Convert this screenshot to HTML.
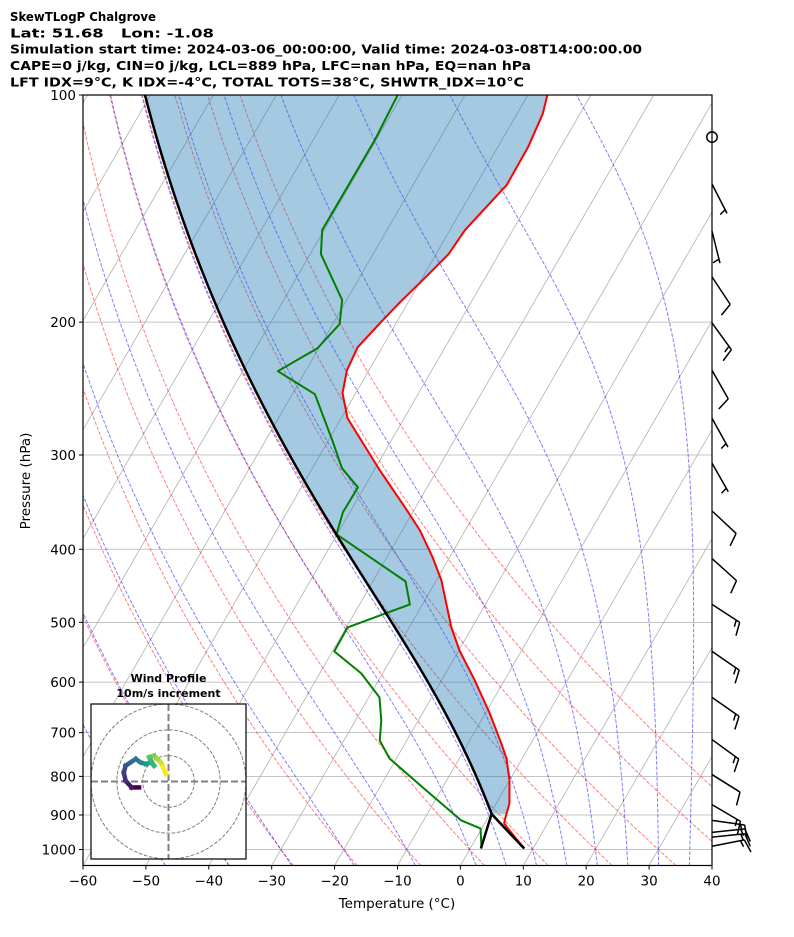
<!DOCTYPE html>
<html><head><meta charset="utf-8"><style>
html,body{margin:0;padding:0;background:#fff;}
svg{display:block;font-family:"DejaVu Sans","Liberation Sans",sans-serif;}
</style></head><body>
<svg id="chart" width="794" height="937" viewBox="0 0 794 937" xmlns="http://www.w3.org/2000/svg">
<rect width="794" height="937" fill="#fff"/>
<g font-weight="bold" font-size="12.5" fill="#000" style="white-space:pre">
<text x="10" y="21" textLength="146" lengthAdjust="spacingAndGlyphs">SkewTLogP Chalgrove</text>
<text x="10" y="37.5" textLength="204" lengthAdjust="spacingAndGlyphs">Lat: 51.68&#160;&#160;&#160;Lon: -1.08</text>
<text x="10" y="53.5" textLength="632" lengthAdjust="spacingAndGlyphs">Simulation start time: 2024-03-06_00:00:00, Valid time: 2024-03-08T14:00:00.00</text>
<text x="10" y="70" textLength="521" lengthAdjust="spacingAndGlyphs">CAPE=0 j/kg, CIN=0 j/kg, LCL=889 hPa, LFC=nan hPa, EQ=nan hPa</text>
<text x="10" y="86.5" textLength="514" lengthAdjust="spacingAndGlyphs">LFT IDX=9°C, K IDX=-4°C, TOTAL TOTS=38°C, SHWTR_IDX=10°C</text>
</g>
<defs><clipPath id="plotclip"><rect x="83" y="95" width="629" height="771"/></clipPath></defs>
<g id="plot" clip-path="url(#plotclip)"></g>
<g id="axes"></g>
<g id="barbs"></g>
<g id="hodo"></g>
</svg>
<script>
// ---- data ----
const tempP = [100,106,117,131.6,151,162.5,174.9,188.2,198.8,215.9,231.6,248.4,268.2,314.3,351.9,377.6,410,439.8,507.7,544.6,597,660,723.5,757.4,810,869,909.6,923.6,943.6,997];
const tempT = [-56.9,-55.9,-55.2,-55.1,-57.6,-58.0,-59.6,-61.3,-62.4,-63.9,-63.5,-62.1,-59.0,-49.1,-41.7,-37.2,-32.7,-29.2,-23.3,-19.9,-14.7,-9.3,-4.7,-2.5,0.0,2.1,2.8,3.1,4.6,8.6];
const dewP = [100,114.7,151,162.5,174.3,187,201.2,216.6,232.3,249.2,288.6,312.4,331.1,357.3,382.2,441.2,473.3,507.7,546.3,584.2,628.6,674.3,716.9,757.4,835.3,915.2,937.7,994];
const dewT = [-80.7,-80.2,-80.3,-78.3,-74.5,-70.7,-68.9,-70.2,-74.4,-66.4,-59.1,-55.3,-51.0,-51.1,-50.1,-34.8,-32.0,-39.8,-39.7,-33.4,-28.3,-25.9,-24.3,-21.1,-12.3,-4.0,-0.2,1.7];
const windP = [113.7,131.2,151.5,174.2,200.5,231.6,268.2,307.5,355.8,411.5,473.3,546.3,628.6,715,795.6,872,915,949,963,990];
const windDir = [0,153,166,146.5,144,150.5,151,150.5,133,132,123,124.5,125,126,122,120.5,98,84,84,79];
const windSpd = [0,5,5,10,15,10,5,5,10,10,15,15,15,15,10,15,15,15,15,15];
const hodoU = [-11.4,-14.3,-16.6,-17.3,-16.6,-14.7,-12.7,-10.8,-8.8,-6.9,-5.6,-7.5,-5.6,-4.3,-3.0,-2.1,-1.0];
const hodoV = [-2.3,-2.3,0.3,3.5,6.1,7.4,8.7,7.4,6.8,7.4,6.1,9.4,10.0,8.7,7.4,5.5,2.9];
const xTicks = [-60,-50,-40,-30,-20,-10,0,10,20,30,40];
const pTicks = [100,200,300,400,500,600,700,800,900,1000];
const dryT0 = [-40,-30,-20,-10,0,10,20,30,40,50];
const moistT0 = [-50,-40,-30,-20,-10,0,5,10,15,20,25,30,35];
const isoT = [-160,-150,-140,-130,-120,-110,-100,-90,-80,-70,-60,-50,-40,-30,-20,-10,0,10,20,30,40];

// ---- scales ----
const NS='http://www.w3.org/2000/svg';
const X0=83,X1=712,Y0=95,K=754.5,PB=1050;
function yP(p){return Y0+K*Math.log10(p/100);}
const YB=yP(PB);
function xT(t,p){return X0+(t+60)*6.29+0.5774*(YB-yP(p));}
function mk(tag,attrs,parent){const e=document.createElementNS(NS,tag);for(const k in attrs)e.setAttribute(k,attrs[k]);parent.appendChild(e);return e;}
function pathD(pts){return pts.map((q,i)=>(i?'L':'M')+q[0].toFixed(2)+' '+q[1].toFixed(2)).join('');}
const plot=document.getElementById('plot'),axes=document.getElementById('axes');

function esat(Tk){return 6.112*Math.exp(17.67*(Tk-273.15)/(Tk-29.65));}
function dTdp(T,p){const es=esat(T);const rs=0.622*es/(p-es);return (287.04*T+2.501e6*rs)/(1005.7+2.501e6*2.501e6*rs*0.622/(287.04*T*T))/p;}
function moist(Tk,p0,p1,n){const out=[[p0,Tk]];let T=Tk,p=p0;const h=(p1-p0)/n;
 for(let i=0;i<n;i++){const k1=dTdp(T,p),k2=dTdp(T+h/2*k1,p+h/2),k3=dTdp(T+h/2*k2,p+h/2),k4=dTdp(T+h*k3,p+h);T+=h/6*(k1+2*k2+2*k3+k4);p+=h;out.push([p,T]);}return out;}
function interpLog(p,P,T){const lp=Math.log(p);if(p<=P[0])return T[0];for(let i=1;i<P.length;i++){if(p<=P[i]){const a=Math.log(P[i-1]),b=Math.log(P[i]);return T[i-1]+(T[i]-T[i-1])*(lp-a)/(b-a);}}return T[T.length-1];}

pTicks.forEach(p=>{const l=mk('line',{x1:X0,x2:X1,y1:yP(p),y2:yP(p),stroke:'#b0b0b0','stroke-width':0.8},plot);
 });
isoT.forEach(t=>{const l=mk('line',{x1:xT(t,PB),y1:YB,x2:xT(t,100),y2:yP(100),stroke:'#b0b0b0','stroke-width':0.8},plot);
 });
dryT0.forEach(t0=>{const pts=[];for(let i=0;i<=60;i++){const p=PB-(PB-100)*i/60;const T=(t0+273.15)*Math.pow(p/1000,0.28571)-273.15;pts.push([xT(T,p),yP(p)]);}
 const e=mk('path',{d:pathD(pts),fill:'none',stroke:'red','stroke-opacity':0.5,'stroke-width':1,'stroke-dasharray':'3.7 1.6'},plot);
 });
moistT0.forEach(t0=>{const up=moist(t0+273.15,1000,100,180),dn=moist(t0+273.15,1000,PB,10);
 const pts=dn.reverse().concat(up.slice(1)).map(q=>[xT(q[1]-273.15,q[0]),yP(q[0])]);
 const e=mk('path',{d:pathD(pts),fill:'none',stroke:'blue','stroke-opacity':0.5,'stroke-width':1,'stroke-dasharray':'3.7 1.6'},plot);
 });

const p0=tempP[tempP.length-1],T0=tempT[tempT.length-1],Td0=dewT[dewT.length-1];
const e0=6.112*Math.exp(17.67*Td0/(Td0+243.5));const w=0.622*e0/(p0-e0);
function tdAt(p){const e=w*p/(0.622+w);const l=Math.log(e/6.112);return 243.5*l/(17.67-l);}
let plcl=p0;for(let p=p0;p>300;p-=0.5){const T=(T0+273.15)*Math.pow(p/p0,0.28571)-273.15;if(T<=tdAt(p)){plcl=p;break;}}
const Tlcl=(T0+273.15)*Math.pow(plcl/p0,0.28571);
const parcel=[];for(let i=0;i<=20;i++){const p=p0-(p0-plcl)*i/20;parcel.push([p,(T0+273.15)*Math.pow(p/p0,0.28571)-273.15]);}
moist(Tlcl,plcl,100,200).slice(1).forEach(q=>parcel.push([q[0],q[1]-273.15]));
const above=parcel.filter(q=>q[0]<=plcl+0.01);
const poly=above.map(q=>[xT(q[1],q[0]),yP(q[0])]).concat(above.slice().reverse().map(q=>{const t=interpLog(q[0],tempP,tempT);return [xT(t,q[0]),yP(q[0])];}));
const fillEl=mk('path',{d:pathD(poly)+'Z',fill:'#1f77b4','fill-opacity':0.4,stroke:'none'},plot);

const tl=mk('path',{d:pathD(tempP.map((p,i)=>[xT(tempT[i],p),yP(p)])),fill:'none',stroke:'red','stroke-width':2,'stroke-linejoin':'round'},plot);

const dl=mk('path',{d:pathD(dewP.map((p,i)=>[xT(dewT[i],p),yP(p)])),fill:'none',stroke:'green','stroke-width':2,'stroke-linejoin':'round'},plot);

const pl=mk('path',{d:pathD(parcel.map(q=>[xT(q[1],q[0]),yP(q[0])])),fill:'none',stroke:'#000','stroke-width':2.5,'stroke-linejoin':'round'},plot);

const ml=[];for(let i=0;i<=10;i++){const p=p0-(p0-plcl)*i/10;ml.push([xT(tdAt(p),p),yP(p)]);}
const mle=mk('path',{d:pathD(ml),fill:'none',stroke:'#000','stroke-width':2.5},plot);


const fr=mk('rect',{x:X0,y:Y0,width:X1-X0,height:YB-Y0,fill:'none',stroke:'#000','stroke-width':1.2},axes);

xTicks.forEach(t=>{const x=X0+(t+60)*6.29;
 const tk=mk('line',{x1:x,x2:x,y1:YB,y2:YB+4,stroke:'#000','stroke-width':1},axes);
 const tx=mk('text',{x:x,y:YB+20,'text-anchor':'middle','font-size':13.5},axes);tx.textContent=String(t).replace('-','−');
 });
pTicks.forEach(p=>{const y=yP(p);
 const tk=mk('line',{x1:X0-4,x2:X0,y1:y,y2:y,stroke:'#000','stroke-width':1},axes);
 const tx=mk('text',{x:X0-7,y:y+5,'text-anchor':'end','font-size':13.5},axes);tx.textContent=String(p);
 });
const xl=mk('text',{x:397,y:908,'text-anchor':'middle','font-size':13.5},axes);xl.textContent='Temperature (°C)';

const yl=mk('text',{x:30,y:481,'text-anchor':'middle','font-size':13.5,transform:'rotate(-90 30 481)'},axes);yl.textContent='Pressure (hPa)';


const barbs=document.getElementById('barbs');
const L=33,H=13.2,W=8.25,SP=4.1;
windP.forEach((p,i)=>{const px=X1,py=yP(p),s=windSpd[i];
 if(s<2.5){const c=mk('circle',{cx:px,cy:py,r:5.2,fill:'none',stroke:'#000','stroke-width':1.5},barbs);return;}
 const a=windDir[i]*Math.PI/180,ux=Math.sin(a),uy=-Math.cos(a),nx=-uy,ny=ux;
 const tx=px+L*ux,ty=py+L*uy;let d='M'+px+' '+py.toFixed(2)+'L'+tx.toFixed(2)+' '+ty.toFixed(2);
 const full=Math.floor(s/10),half=(s%10)>=5?1:0;let off=(full===0&&half)?SP:0;
 for(let k=0;k<full;k++){const bx=tx-off*ux,by=ty-off*uy;d+='M'+bx.toFixed(2)+' '+by.toFixed(2)+'L'+(bx+H*nx+W/2*ux).toFixed(2)+' '+(by+H*ny+W/2*uy).toFixed(2);off+=SP;}
 if(half){const bx=tx-off*ux,by=ty-off*uy;d+='M'+bx.toFixed(2)+' '+by.toFixed(2)+'L'+(bx+H/2*nx+W/4*ux).toFixed(2)+' '+(by+H/2*ny+W/4*uy).toFixed(2);}
 const b=mk('path',{d:d,fill:'none',stroke:'#000','stroke-width':1.5},barbs);});

const hodo=document.getElementById('hodo');
const HX0=91,HY0=704,HS=155,HC=[168.5,781.5],HR=HS/2/30;
const hb=mk('rect',{x:HX0,y:HY0,width:HS,height:HS,fill:'#fff',stroke:'none'},hodo);
const hg=mk('g',{'clip-path':'url(#hclip)'},hodo);
mk('clipPath',{id:'hclip'},document.querySelector('defs'));
mk('rect',{x:HX0,y:HY0,width:HS,height:HS},document.getElementById('hclip'));
[10,20,30].forEach(r=>{const c=mk('circle',{cx:HC[0],cy:HC[1],r:r*HR,fill:'none',stroke:'#808080','stroke-width':1,'stroke-dasharray':'3.7 1.6'},hg);});
const ha=mk('line',{x1:HX0,x2:HX0+HS,y1:HC[1],y2:HC[1],stroke:'#808080','stroke-width':2,'stroke-dasharray':'7 3'},hg);
const hv=mk('line',{x1:HC[0],x2:HC[0],y1:HY0,y2:HY0+HS,stroke:'#808080','stroke-width':2,'stroke-dasharray':'7 3'},hg);
const vir=[[68,1,84],[72,40,120],[62,73,137],[49,104,142],[38,130,142],[31,158,137],[53,183,121],[110,206,88],[181,222,43],[253,231,37]];
function viridis(f){const x=f*(vir.length-1),i=Math.min(Math.floor(x),vir.length-2),r=x-i;const c=vir[i].map((v,j)=>Math.round(v+(vir[i+1][j]-v)*r));return 'rgb('+c.join(',')+')';}
for(let i=0;i<hodoU.length-1;i++){const s=mk('line',{x1:HC[0]+hodoU[i]*HR,y1:HC[1]-hodoV[i]*HR,x2:HC[0]+hodoU[i+1]*HR,y2:HC[1]-hodoV[i+1]*HR,stroke:viridis(i/(hodoU.length-2)),'stroke-width':4.5,'stroke-linecap':'square'},hg);
 }
const hf=mk('rect',{x:HX0,y:HY0,width:HS,height:HS,fill:'none',stroke:'#000','stroke-width':1.2},hodo);
const ht1=mk('text',{x:HC[0],y:682,'text-anchor':'middle','font-size':11,'font-weight':'bold'},hodo);ht1.textContent='Wind Profile';

const ht2=mk('text',{x:HC[0],y:697,'text-anchor':'middle','font-size':11,'font-weight':'bold'},hodo);ht2.textContent='10m/s increment';

</script>
</body></html>
